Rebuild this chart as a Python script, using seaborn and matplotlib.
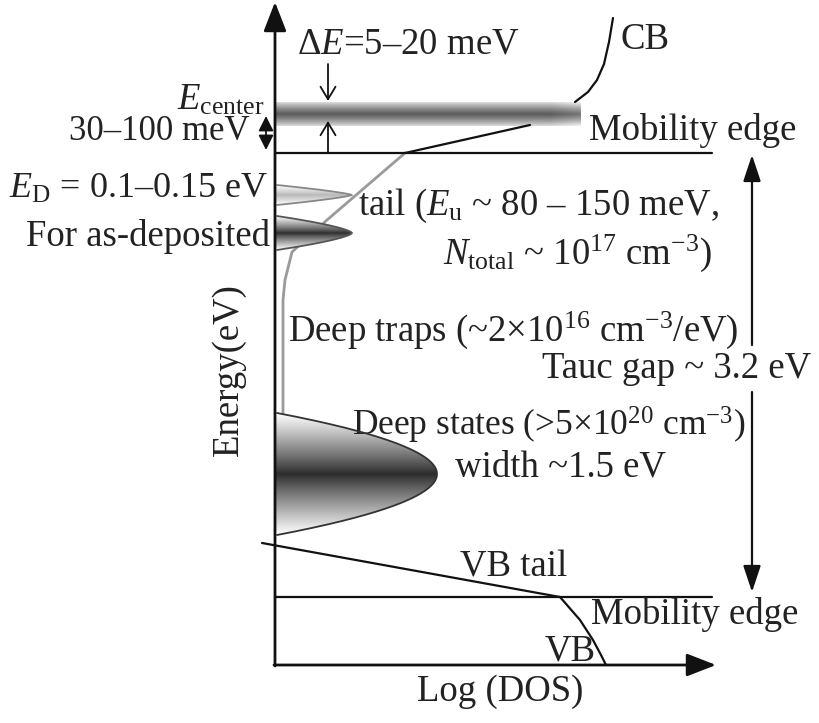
import numpy as np
import pandas as pd
import matplotlib
matplotlib.use("Agg")
import matplotlib.pyplot as plt
import seaborn as sns
from matplotlib.colors import LinearSegmentedColormap

# ---------------- schematic data (x = log DOS, y = energy; image-like units) -------------
axis_origin = [275, 665]          # origin of the Energy / Log(DOS) axes
x_axis_end = 716
y_axis_top = 2
mobility_edges_y = [153, 597]     # upper (CB) and lower (VB) mobility edges
mobility_edge_xmax = 712

cb_band_y = [102, 126]            # E_center band
cb_band_x = [276, 581]
cb_curve_x = [575, 588, 597, 604, 609, 613]
cb_curve_y = [102, 92, 80, 64, 42, 18]
cb_tail_x = [530, 405]
cb_tail_y = [125, 153]
trap_x = [405, 327, 292, 285, 283, 283]
trap_y = [153, 220, 252, 280, 300, 414]

# lenses: (top, bottom, tip x, sharpness, darkest grey, outline)
lens_names = ["E_D tail", "as-deposited", "deep states"]
lens_top = [185, 216, 413]
lens_bottom = [205, 250, 535]
lens_tip = [352, 352, 437]
lens_power = [1.3, 1.5, 2.0]
lens_dark = ["#b8b8b8", "#2e2e2e", "#2a2a2a"]
lens_edge = ["#888888", "#555555", "#333333"]

vb_tail_x = [262, 560]
vb_tail_y = [543, 597]
vb_curve_x = [560, 580, 593, 601, 606]
vb_curve_y = [597, 620, 640, 655, 665]

tauc_x = 752
tauc_y = [155, 592]
tauc_gap = [345, 392]

# ---------------- style ----------------
sns.set_theme(style="white")
plt.rcParams['font.family'] = ['Liberation Serif', 'DejaVu Serif']
plt.rcParams['mathtext.fontset'] = 'custom'
plt.rcParams['mathtext.rm'] = 'Liberation Serif'
plt.rcParams['mathtext.it'] = 'Liberation Serif:italic'
plt.rcParams['mathtext.bf'] = 'Liberation Serif:bold'

fig = plt.figure(figsize=(8.2, 7.23), dpi=100)
ax = fig.add_axes([0, 0, 1, 1])
ax.set_axis_off()

FS = 26.5
TXT = "#222222"

def line(xs, ys, color="#111111", lw=1.6, z=3):
    df = pd.DataFrame({"x": xs, "y": ys})
    sns.lineplot(data=df, x="x", y="y", sort=False, estimator=None, ax=ax,
                 color=color, lw=lw, zorder=z)

def arrow(x0, y0, x1, y1, style="-|>,head_length=0.9,head_width=0.35", lw=1.8, ms=18, color="#111111"):
    ax.annotate("", xy=(x1, y1), xytext=(x0, y0),
                arrowprops=dict(arrowstyle=style, lw=lw, color=color,
                                mutation_scale=ms, shrinkA=0, shrinkB=0), zorder=6)

# axes arrows
arrow(axis_origin[0], axis_origin[1] + 1, axis_origin[0], y_axis_top, lw=2.0, ms=20)
arrow(axis_origin[0] - 1, axis_origin[1], x_axis_end, axis_origin[1], lw=2.0, ms=20)

# mobility edges
for ye in mobility_edges_y:
    line([axis_origin[0], mobility_edge_xmax], [ye, ye], lw=1.6)

# CB band with gradient
yy = np.linspace(-1, 1, 60)[:, None]
xx = np.linspace(0, 1, 300)[None, :]
band = np.abs(yy) ** 1.2 * 0.8 + 0.05 + 0.15 * np.clip((xx - 0.9) / 0.1, 0, 1)
band = np.clip(band, 0, 1)
cmap_band = LinearSegmentedColormap.from_list("b", ["#555555", "#f2f2f2"])
ax.imshow(band, cmap=cmap_band, vmin=0, vmax=1, aspect="auto", interpolation="bilinear",
          extent=[cb_band_x[0], cb_band_x[1], cb_band_y[1], cb_band_y[0]], zorder=2)

# CB curves
line(cb_curve_x, cb_curve_y, lw=1.6)
line(cb_tail_x, cb_tail_y, lw=1.6)
line(trap_x, trap_y, color="#9a9a9a", lw=2.0, z=2)

# lenses
for top, bot, tip, p, dark, edge in zip(lens_top, lens_bottom, lens_tip, lens_power, lens_dark, lens_edge):
    ys = np.linspace(top, bot, 200)
    t = (ys - (top + bot) / 2) / ((bot - top) / 2)
    xs = axis_origin[0] + 2 + (tip - axis_origin[0] - 2) * (1 - np.abs(t) ** p)
    poly = ax.fill(np.r_[axis_origin[0], xs, axis_origin[0]], np.r_[top, ys, bot],
                   facecolor="none", edgecolor="none", zorder=3)[0]
    g = np.abs(np.linspace(-1, 1, 100))[:, None] * np.ones((1, 50))
    cm = LinearSegmentedColormap.from_list("l", [dark, "#ffffff"])
    im = ax.imshow(g ** 0.9, cmap=cm, vmin=0, vmax=1, aspect="auto", interpolation="bilinear",
                   extent=[axis_origin[0], tip, bot, top], zorder=3)
    im.set_clip_path(poly)
    line(xs, ys, color=edge, lw=1.3, z=4)

# VB
line(vb_tail_x, vb_tail_y, lw=1.6)
line(vb_curve_x, vb_curve_y, lw=1.6)

# Delta E arrows
arrow(328, 64, 328, 101, style="->,head_length=0.5,head_width=0.3", lw=1.3, ms=18)
arrow(328, 153, 328, 121, style="->,head_length=0.5,head_width=0.3", lw=1.3, ms=18)
# 30-100 meV double arrow
arrow(266, 116, 266, 150, style="<|-|>,head_length=0.5,head_width=0.25", lw=1.3, ms=18)

# Tauc gap arrows
arrow(tauc_x, tauc_gap[0], tauc_x, tauc_y[0], lw=1.6, ms=18,
      style="-|>,head_length=0.9,head_width=0.3")
arrow(tauc_x, tauc_gap[1], tauc_x, tauc_y[1], lw=1.6, ms=18,
      style="-|>,head_length=0.9,head_width=0.3")

# ---------------- texts ----------------
def txt(x, y, s, ha="left", fs=FS, **kw):
    ax.text(x, y, s, ha=ha, va="center", fontsize=fs, color=TXT, **kw)

txt(297, 44, "Δ$E$=5–20 meV")
txt(264, 100, r"$E_{\mathrm{center}}$", ha="right")
txt(250, 131, "30–100 meV", ha="right", fs=25)
txt(268, 189, r"$E_{\mathrm{D}}$ = 0.1–0.15 eV", ha="right", fs=26)
txt(270, 236, "For as-deposited", ha="right")
txt(621, 40, "CB")
txt(589, 131, "Mobility edge")
txt(358, 206, r"tail ($E_{\mathrm{u}}$ ~ 80 – 150 meV,")
txt(712, 253, r"$N_{\mathrm{total}}$ ~ 10$^{17}$ cm$^{\mathrm{-3}}$)", ha="right")
txt(288, 330, r"Deep traps (~2×10$^{16}$ cm$^{\mathrm{-3}}$/eV)")
txt(542, 369, "Tauc gap ~ 3.2 eV")
txt(745, 425, r"Deep states (>5×10$^{20}$ cm$^{\mathrm{-3}}$)", ha="right", fs=25.5)
txt(455, 467, "width ~1.5 eV")
txt(460, 567, "VB tail")
txt(591, 615, "Mobility edge")
txt(545, 651, "VB")
txt(500, 692, "Log (DOS)", ha="center")
ax.text(229, 370, "Energy(eV)", rotation=90, ha="center", va="center", fontsize=FS, color=TXT)

ax.set_xlim(0, 820)
ax.set_ylim(723, 0)
fig.savefig("out.png", dpi=100, facecolor="white")
